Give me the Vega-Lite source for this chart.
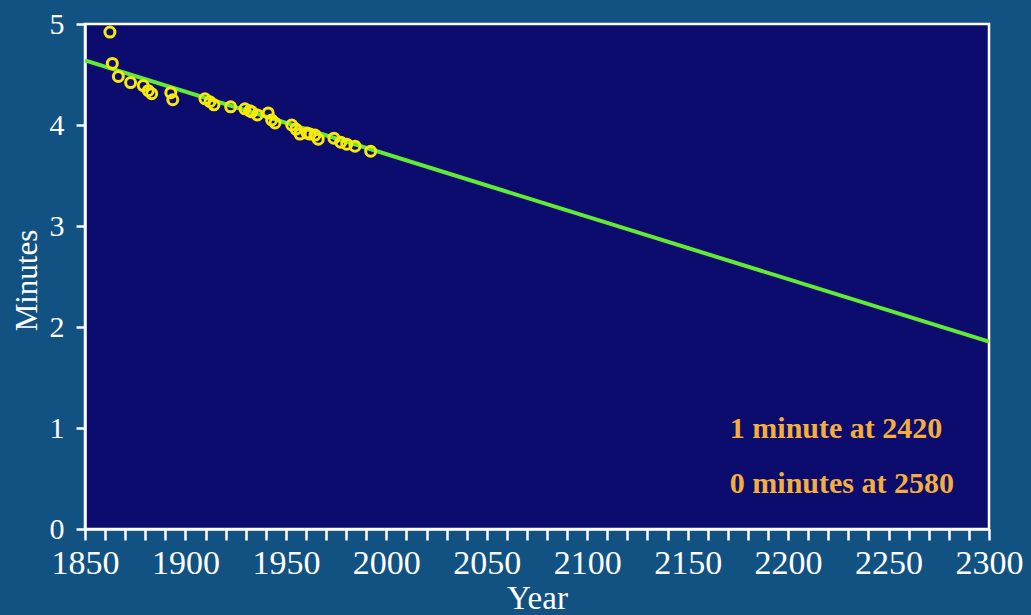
{
  "$schema": "https://vega.github.io/schema/vega-lite/v6.json",
  "width": 904,
  "height": 505,
  "autosize": {"type": "none"},
  "padding": {"left": 85, "top": 24, "right": 42, "bottom": 86},
  "background": "#125282",
  "config": {
    "view": {"fill": "#0b0c6e", "stroke": "#ffffff", "strokeWidth": 2.5},
    "font": "Liberation Serif",
    "axis": {
      "grid": false,
      "domainColor": "#ffffff", "domainWidth": 2.5,
      "tickColor": "#ffffff", "tickWidth": 2.5,
      "labelColor": "#ffffff", "labelFont": "Liberation Serif",
      "titleColor": "#ffffff", "titleFont": "Liberation Serif", "titleFontWeight": "normal"
    }
  },
  "datasets": {
    "fit": [
      {"year": 1850, "minutes": 4.64},
      {"year": 2300, "minutes": 1.855}
    ],
    "records": [
      {"year": 1862.4, "minutes": 4.92},
      {"year": 1863.6, "minutes": 4.61},
      {"year": 1866.6, "minutes": 4.48},
      {"year": 1872.7, "minutes": 4.42},
      {"year": 1879.0, "minutes": 4.39},
      {"year": 1881.5, "minutes": 4.34},
      {"year": 1883.2, "minutes": 4.31},
      {"year": 1892.7, "minutes": 4.32},
      {"year": 1893.7, "minutes": 4.25},
      {"year": 1909.7, "minutes": 4.26},
      {"year": 1912.2, "minutes": 4.23},
      {"year": 1914.2, "minutes": 4.2},
      {"year": 1922.5, "minutes": 4.18},
      {"year": 1929.6, "minutes": 4.16},
      {"year": 1932.0, "minutes": 4.14},
      {"year": 1933.0, "minutes": 4.13},
      {"year": 1935.8, "minutes": 4.1},
      {"year": 1941.2, "minutes": 4.12},
      {"year": 1942.9, "minutes": 4.05},
      {"year": 1944.6, "minutes": 4.02},
      {"year": 1952.9, "minutes": 4.0},
      {"year": 1955.0, "minutes": 3.96},
      {"year": 1957.0, "minutes": 3.91},
      {"year": 1960.5, "minutes": 3.92},
      {"year": 1962.0, "minutes": 3.91},
      {"year": 1964.5, "minutes": 3.9},
      {"year": 1966.1, "minutes": 3.86},
      {"year": 1973.9, "minutes": 3.87},
      {"year": 1977.3, "minutes": 3.83},
      {"year": 1980.3, "minutes": 3.81},
      {"year": 1984.4, "minutes": 3.79},
      {"year": 1992.2, "minutes": 3.74}
    ],
    "notes": [
      {"year": 2171, "minutes": 0.9, "label": "1 minute at 2420"},
      {"year": 2171, "minutes": 0.355, "label": "0 minutes at 2580"}
    ]
  },
  "encoding": {
    "x": {
      "field": "year", "type": "quantitative",
      "scale": {"domain": [1850, 2300], "nice": false, "zero": false},
      "axis": {
        "orient": "bottom",
        "title": "Year",
        "values": [1850, 1860, 1870, 1880, 1890, 1900, 1910, 1920, 1930, 1940, 1950, 1960, 1970, 1980, 1990, 2000, 2010, 2020, 2030, 2040, 2050, 2060, 2070, 2080, 2090, 2100, 2110, 2120, 2130, 2140, 2150, 2160, 2170, 2180, 2190, 2200, 2210, 2220, 2230, 2240, 2250, 2260, 2270, 2280, 2290, 2300],
        "labelExpr": "datum.value % 50 === 0 ? format(datum.value, 'd') : ''",
        "tickSize": 11,
        "labelFontSize": 34,
        "labelPadding": 6, "labelFlush": false, "labelOverlap": false,
        "titleFontSize": 33,
        "titleBaseline": "alphabetic", "titleY": 79, "titleX": 452,
        "encode": {
          "ticks": {"update": {"y2": {"signal": "datum.value % 50 === 0 ? 11 : 7"}}}
        }
      }
    },
    "y": {
      "field": "minutes", "type": "quantitative",
      "scale": {"domain": [0, 5], "nice": false},
      "axis": {
        "title": "Minutes",
        "values": [0, 1, 2, 3, 4, 5],
        "tickSize": 9,
        "labelFontSize": 30,
        "labelPadding": 12, "labelFlush": false,
        "titleFontSize": 31,
        "titleBaseline": "middle", "titleX": -58, "titleY": 256
      }
    }
  },
  "layer": [
    {
      "data": {"name": "fit"},
      "mark": {"type": "line", "color": "#62ea34", "strokeWidth": 4}
    },
    {
      "data": {"name": "records"},
      "mark": {"type": "point", "shape": "circle", "filled": false, "color": "#f8e80c", "strokeWidth": 3, "size": 100, "opacity": 1}
    },
    {
      "data": {"name": "notes"},
      "mark": {"type": "text", "align": "left", "baseline": "alphabetic", "font": "Liberation Serif", "fontSize": 30, "fontWeight": "bold", "color": "#f4ae3c"},
      "encoding": {
        "text": {"field": "label"}
      }
    }
  ]
}
